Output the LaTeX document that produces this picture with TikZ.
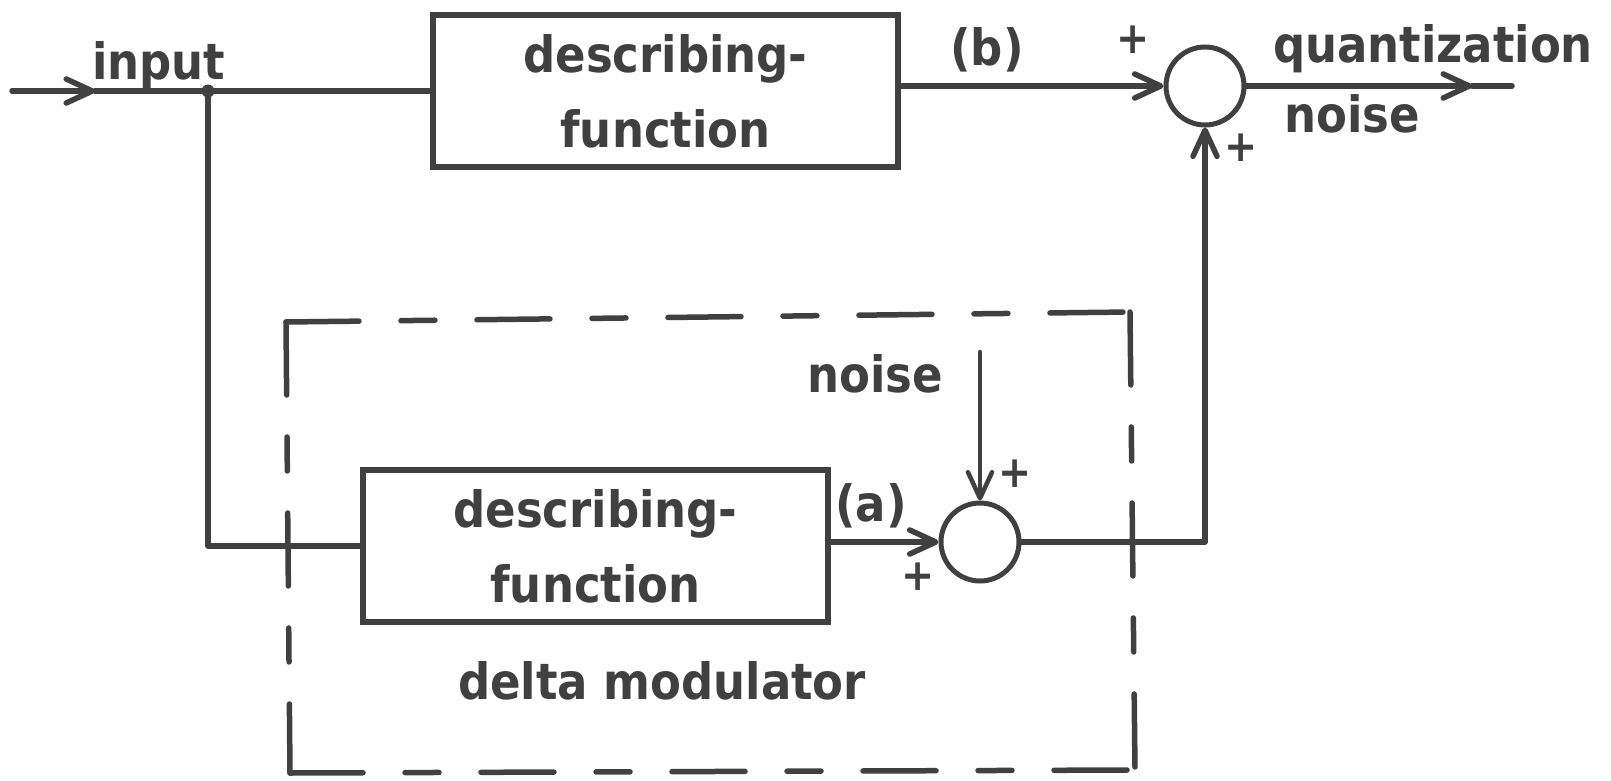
\documentclass[tikz,border=0pt]{standalone}
\usepackage{fontspec}
\setmainfont{DejaVu Sans Condensed}
\usetikzlibrary{arrows.meta}

\definecolor{ink}{HTML}{404040}
\newcommand\dgfont{\fontsize{50pt}{75pt}\selectfont\bfseries}
\newcommand\signfont{\fontsize{44pt}{44pt}\selectfont\bfseries}

\tikzset{
  wire/.style={draw=ink, line width=5.5pt, line join=round, line cap=round},
  arrowed/.style={wire, -{Straight Barb[length=26pt, width=24pt, round]}},
  blk/.style={draw=ink, line width=5.5pt, minimum width=465pt, minimum height=152pt,
              inner sep=0pt, align=center, font=\dgfont, text=ink},
  sumc/.style={circle, draw=ink, line width=5pt, minimum size=78pt, inner sep=0pt},
  dot/.style={circle, fill=ink, minimum size=13pt, inner sep=0pt},
  lbl/.style={font=\dgfont, text=ink, inner sep=0pt},
  sign/.style={font=\signfont, text=ink, inner sep=0pt},
  dashedge/.style={draw=ink, line width=5.5pt, line cap=round,
                   dash pattern=on 73pt off 42pt on 34pt off 42pt}
}

\begin{document}
\begin{tikzpicture}[x=1pt, y=-1pt]
  \useasboundingbox (0,0) rectangle (1611,781);

  % main path: input, describing-function block, summing point
  \coordinate (inStart) at (12,91);
  \coordinate (inTip)   at (95,91);
  \node[dot] (j) at (208,91) {};
  \node[blk] (tb) at (665.5,91) {describing-\\function};
  \node[sumc] (s1) at (1205,86) {};
  \coordinate (outTip) at (1472,86);
  \coordinate (outEnd) at (1512,86);

  % delta modulator branch
  \node[blk] (lb) at (595.5,546) {describing-\\function};
  \node[sumc] (s2) at (980,542) {};
  \coordinate (nzTop) at (980,352);

  % dashed enclosure of the delta modulator
  \coordinate (dTL) at (286,322);
  \coordinate (dTR) at (1130,312);
  \coordinate (dBL) at (290,773);
  \coordinate (dBR) at (1135,770);
  \draw[dashedge] (dTL) -- (dTR);
  \draw[dashedge] (dTL) -- (dBL);
  \draw[dashedge] (dBL) -- (dBR);
  \draw[dashedge] (dTR) -- (dBR);

  % connectors
  \draw[arrowed] (inStart) -- (inTip);
  \draw[wire] (inTip) -- (j) -- (tb.west);
  \draw[wire] (j) |- (lb.west);
  \draw[arrowed] (tb.east |- s1.west) -- (s1.west);
  \draw[arrowed] (lb.east |- s2.west) -- (s2.west);
  \draw[arrowed, line width=4.5pt] (nzTop) -- (s2.north);
  \draw[arrowed] (s2.east) -| (s1.south);
  \draw[arrowed] (s1.east) -- (outTip);
  \draw[wire] (outTip) -- (outEnd);

  % labels
  \node[lbl, anchor=base west] (tIn) at (92,80) {input};
  \node[lbl, anchor=base] (tB) at (987,66) {(b)};
  \node[lbl, anchor=base] (tQ) at (1433,63) {quantization};
  \node[lbl, anchor=base] (tQn) at (1352,132) {noise};
  \node[lbl, anchor=base] (tN) at (875,392) {noise};
  \node[lbl, anchor=base] (tA) at (871,521) {(a)};
  \node[lbl, anchor=base] (tD) at (662,699) {delta modulator};

  % signs at the summing points
  \node[sign] (p1) at (1133,40) {+};
  \node[sign] (p2) at (1241,148) {+};
  \node[sign] (p3) at (1015,474) {+};
  \node[sign] (p4) at (918,577) {+};
\end{tikzpicture}
\end{document}
